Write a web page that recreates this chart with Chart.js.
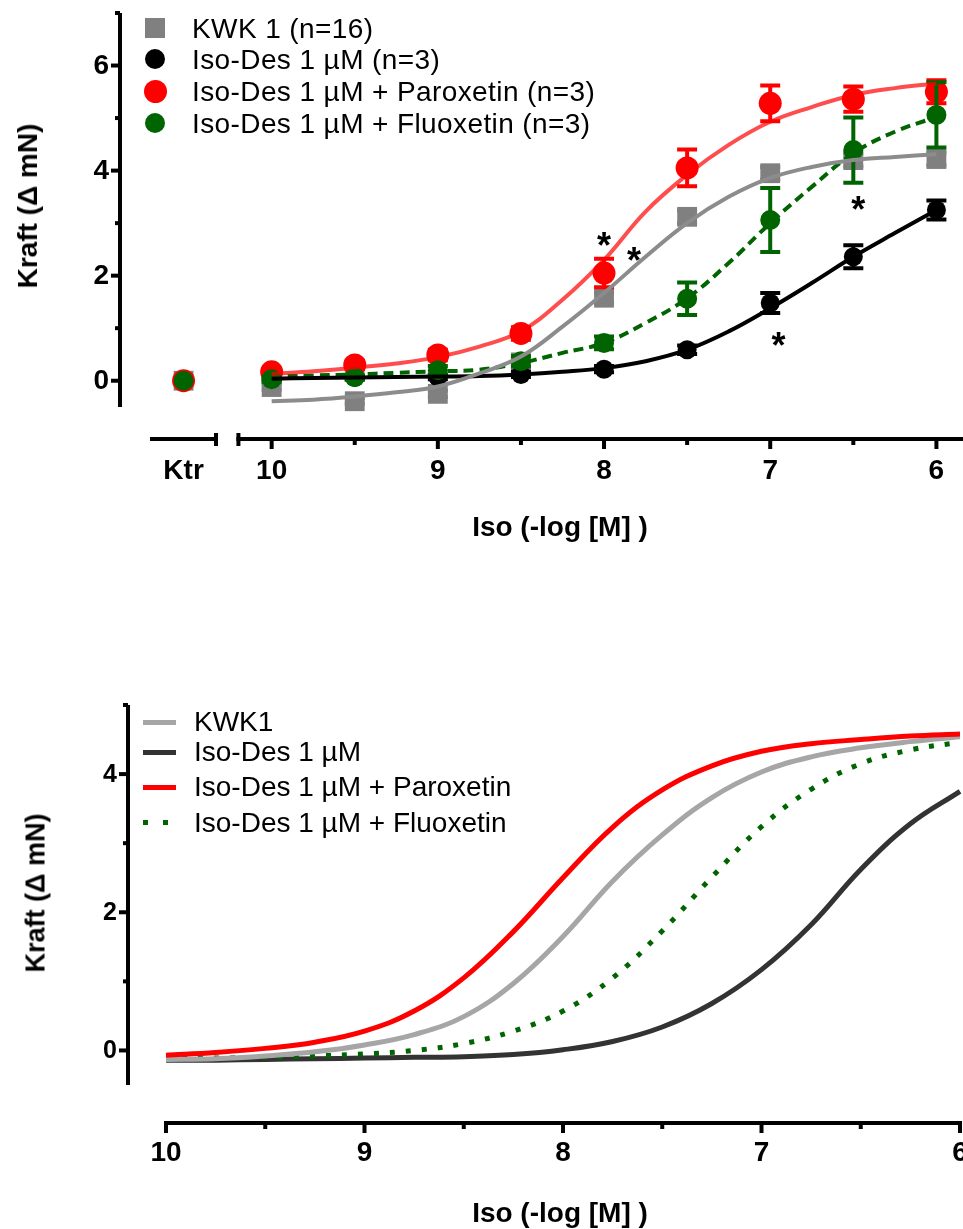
<!DOCTYPE html>
<html>
<head>
<meta charset="utf-8">
<script src="https://cdn.jsdelivr.net/npm/chart.js@4.4.1/dist/chart.umd.min.js"></script>
<style>
  body { margin: 0; background: #fff; width: 963px; height: 1229px; overflow: hidden; position: relative;
         font-family: "Liberation Sans", Arial, sans-serif; color: #000; }
  canvas { position: absolute; left: 0; }
  #topChart { top: 0; }
  #bottomChart { top: 600px; }
  .row { position: absolute; white-space: nowrap; font-size: 28px; line-height: 32px; }
  #topLegend .row { letter-spacing: 0.4px; }
  .mark { position: absolute; }
  .title { position: absolute; font-weight: bold; font-size: 28px; white-space: nowrap; transform: translate(-50%, -50%); }
  .ytitle { transform: translate(-50%, -50%) rotate(-90deg); }
</style>
</head>
<body>
<canvas id="topChart" width="963" height="600"></canvas>
<canvas id="bottomChart" width="963" height="629"></canvas>
<div id="topLegend"></div>
<div id="bottomLegend"></div>
<div class="title ytitle" style="left:28px; top:206px;">Kraft (Δ mN)</div>
<div class="title" style="left:560px; top:527px;">Iso (-log [M] )</div>
<div class="title ytitle" style="left:36px; top:893px; font-size:27px;">Kraft (Δ mN)</div>
<div class="title" style="left:560px; top:1213px;">Iso (-log [M] )</div>
<script>
// --- Messwerte (oben): Mittelwert +/- SEM je Iso-Konzentration
const doses = [10, 9.5, 9, 8.5, 8, 7.5, 7, 6.5, 6];
const kwkMean = [-0.12, -0.39, -0.25, 0.35, 1.58, 3.12, 3.95, 4.2, 4.22];
const kwkSem = [0.05, 0.05, 0.06, 0.08, 0.1, 0.12, 0.12, 0.12, 0.12];
const desMean = [0.05, 0.06, 0.07, 0.12, 0.22, 0.59, 1.48, 2.36, 3.25];
const desSem = [0.03, 0.03, 0.04, 0.05, 0.06, 0.08, 0.19, 0.22, 0.18];
const parMean = [0.17, 0.3, 0.49, 0.9, 2.05, 4.05, 5.28, 5.36, 5.5];
const parSem = [0.05, 0.08, 0.1, 0.12, 0.27, 0.35, 0.34, 0.24, 0.22];
const fluMean = [0.03, 0.07, 0.2, 0.37, 0.72, 1.56, 3.06, 4.39, 5.06];
const fluSem = [0.05, 0.05, 0.08, 0.1, 0.12, 0.31, 0.61, 0.62, 0.62];
const ktrValues = [0, 0, 0, 0]; // KWK, Des, Par, Flu

// --- Fitkurven (oben)
const fitX = [10, 9.75, 9.5, 9.25, 9, 8.75, 8.5, 8.25, 8, 7.75, 7.5, 7.25, 7, 6.75, 6.5, 6.25, 6];
const kwkFit = [-0.39, -0.36, -0.3, -0.22, -0.11, 0.14, 0.46, 1.03, 1.67, 2.36, 3.0, 3.5, 3.86, 4.07, 4.2, 4.26, 4.31];
const desFit = [0.04, 0.05, 0.06, 0.07, 0.08, 0.09, 0.12, 0.17, 0.24, 0.37, 0.59, 0.94, 1.38, 1.86, 2.36, 2.81, 3.25];
const parFit = [0.13, 0.18, 0.25, 0.33, 0.45, 0.65, 0.94, 1.54, 2.3, 3.22, 3.92, 4.49, 4.93, 5.21, 5.44, 5.57, 5.66];
const fluFit = [0.08, 0.1, 0.12, 0.15, 0.18, 0.21, 0.34, 0.53, 0.72, 1.1, 1.57, 2.24, 3.0, 3.69, 4.33, 4.74, 5.02];

// --- Kurven (unten)
const kwkCurve = [-0.13, -0.12, -0.08, -0.02, 0.08, 0.23, 0.49, 0.97, 1.65, 2.45, 3.12, 3.66, 4.03, 4.25, 4.38, 4.47, 4.54];
const desCurve = [-0.14, -0.14, -0.13, -0.12, -0.11, -0.1, -0.09, -0.06, 0.01, 0.13, 0.34, 0.68, 1.17, 1.82, 2.62, 3.28, 3.75];
const parCurve = [-0.07, -0.03, 0.03, 0.12, 0.28, 0.57, 1.05, 1.72, 2.5, 3.23, 3.77, 4.12, 4.33, 4.44, 4.5, 4.55, 4.58];
const fluCurve = [-0.12, -0.11, -0.1, -0.08, -0.05, 0.0, 0.1, 0.28, 0.57, 1.05, 1.73, 2.51, 3.24, 3.78, 4.15, 4.35, 4.46];

// --- Achsen / Beschriftung
const topYTicks = [0, 2, 4, 6];
const topYMinor = [1, 3, 5, 7];
const xTicks = [10, 9, 8, 7, 6];
const xMinor = [9.5, 8.5, 7.5, 6.5];
const bottomYTicks = [0, 2, 4];
const bottomYMinor = [1, 3, 5];
const ktrLabel = 'Ktr';
const topLabels = ['KWK 1 (n=16)', 'Iso-Des 1 µM (n=3)', 'Iso-Des 1 µM + Paroxetin (n=3)', 'Iso-Des 1 µM + Fluoxetin (n=3)'];
const bottomLabels = ['KWK1', 'Iso-Des 1 µM', 'Iso-Des 1 µM + Paroxetin', 'Iso-Des 1 µM + Fluoxetin'];
const sigMarks = [{x: 8.0, y: 2.72}, {x: 7.82, y: 2.43}, {x: 6.95, y: 0.82}, {x: 6.47, y: 3.4}];

const KTR_POS = 10.53;
const FONT = '"Liberation Sans", Arial, sans-serif';
const GRAY = '#808080', RED = '#ff0000', GREEN = '#006400';

const pts = (xs, ys) => xs.map((x, i) => ({x: x, y: ys[i]}));

// GraphPad-artige, abgesetzte Achsen (auch mit Achsenbruch)
const offsetAxes = {
  id: 'offsetAxes',
  afterDraw(chart, args, o) {
    const {ctx, chartArea: a, scales: {x, y}} = chart;
    const ax = a.left - o.offset, ay = a.bottom + o.offset;
    const line = (x1, y1, x2, y2) => { ctx.beginPath(); ctx.moveTo(x1, y1); ctx.lineTo(x2, y2); ctx.stroke(); };
    ctx.save();
    ctx.strokeStyle = '#000';
    ctx.fillStyle = '#000';
    ctx.lineWidth = 4;
    line(ax, y.getPixelForValue(y.max), ax, y.getPixelForValue(y.min));
    ctx.font = 'bold ' + o.yFont + 'px ' + FONT;
    ctx.textAlign = 'right';
    ctx.textBaseline = 'middle';
    o.yTicks.forEach(v => {
      const py = y.getPixelForValue(v);
      line(ax - 9, py, ax, py);
      ctx.fillText(String(v), ax - 11, py + 1);
    });
    o.yMinor.forEach(v => { const py = y.getPixelForValue(v); line(ax - 5, py, ax, py); });

    o.segments.forEach(s => {
      const x1 = x.getPixelForValue(s.from), x2 = x.getPixelForValue(s.to);
      line(x1 - 2, ay, x2 + 2, ay);
      if (s.capFrom) line(x1, ay - 6, x1, ay + 7);
      if (s.capTo) line(x2, ay - 6, x2, ay + 7);
    });
    ctx.font = 'bold ' + o.xFont + 'px ' + FONT;
    ctx.textAlign = 'center';
    o.xTicks.forEach(v => {
      const px = x.getPixelForValue(v);
      line(px, ay, px, ay + 10);
      ctx.fillText(String(v), px, ay + o.xLabelGap);
    });
    o.xMinor.forEach(v => { const px = x.getPixelForValue(v); line(px, ay, px, ay + 6); });
    if (o.ktr) ctx.fillText(o.ktr.label, x.getPixelForValue(o.ktr.pos), ay + o.xLabelGap);
    ctx.restore();
  }
};

// Fehlerbalken (SEM) unter den Symbolen
const errorBars = {
  id: 'errorBars',
  beforeDatasetDraw(chart, {index}) {
    const ds = chart.data.datasets[index];
    if (!ds.errors) return;
    const {ctx, scales: {x, y}} = chart;
    ctx.save();
    ctx.strokeStyle = ds.pointBackgroundColor;
    ctx.lineWidth = 4;
    ds.data.forEach((p, i) => {
      const e = ds.errors[i];
      if (!e) return;
      const px = x.getPixelForValue(p.x);
      const t = y.getPixelForValue(p.y + e), b = y.getPixelForValue(p.y - e);
      ctx.beginPath();
      ctx.moveTo(px, t); ctx.lineTo(px, b);
      ctx.moveTo(px - 10, t); ctx.lineTo(px + 10, t);
      ctx.moveTo(px - 10, b); ctx.lineTo(px + 10, b);
      ctx.stroke();
    });
    ctx.restore();
  }
};

const stars = {
  id: 'stars',
  afterDatasetsDraw(chart, args, o) {
    if (!o.marks) return;
    const {ctx, scales: {x, y}} = chart;
    ctx.save();
    ctx.font = 'bold 36px ' + FONT;
    ctx.textAlign = 'center';
    ctx.textBaseline = 'alphabetic';
    ctx.fillStyle = '#000';
    o.marks.forEach(m => ctx.fillText('*', x.getPixelForValue(m.x), y.getPixelForValue(m.y) + 20));
    ctx.restore();
  }
};

const pointSet = (label, means, sem, ktr, style, color, radius, order) => ({
  label: label,
  data: [{x: KTR_POS, y: ktr}].concat(pts(doses, means)),
  errors: [0].concat(sem),
  showLine: false,
  pointStyle: style,
  pointRadius: radius,
  pointBackgroundColor: color,
  pointBorderWidth: 0,
  clip: false,
  order: order
});

const curveSet = (label, xs, ys, color, width, dash, order) => ({
  label: label,
  data: pts(xs, ys),
  borderColor: color,
  borderWidth: width,
  borderDash: dash,
  pointRadius: 0,
  tension: 0.4,
  clip: false,
  order: order
});

const baseOptions = (padding, xr, yr, axes, marks) => ({
  responsive: false,
  animation: false,
  events: [],
  layout: {padding: padding, autoPadding: false},
  scales: {
    x: {type: 'linear', reverse: true, min: xr[0], max: xr[1], display: false},
    y: {type: 'linear', min: yr[0], max: yr[1], display: false}
  },
  plugins: {legend: {display: false}, tooltip: {enabled: false}, offsetAxes: axes, stars: {marks: marks}}
});

new Chart(document.getElementById('topChart'), {
  type: 'line',
  data: {
    datasets: [
      curveSet('par fit', fitX, parFit, 'rgba(255,0,0,0.7)', 4, [], 0),
      curveSet('kwk fit', fitX, kwkFit, '#8c8c8c', 4, [], 1),
      curveSet('des fit', fitX, desFit, '#000', 4, [], 2),
      curveSet('flu fit', fitX, fluFit, GREEN, 4, [10, 6], 3),
      pointSet(topLabels[3], fluMean, fluSem, ktrValues[3], 'circle', GREEN, 10, 4),
      pointSet(topLabels[2], parMean, parSem, ktrValues[2], 'circle', RED, 11.5, 5),
      pointSet(topLabels[1], desMean, desSem, ktrValues[1], 'circle', '#000', 9.5, 6),
      pointSet(topLabels[0], kwkMean, kwkSem, ktrValues[0], 'rect', GRAY, 14, 7)
    ]
  },
  options: baseOptions({left: 152, right: 0, top: 13, bottom: 193}, [5.84, 10.72], [-0.5, 7], {
    offset: 32, yFont: 28, xFont: 28, xLabelGap: 32,
    yTicks: topYTicks, yMinor: topYMinor, xTicks: xTicks, xMinor: xMinor,
    segments: [{from: 10.72, to: 10.335, capTo: true}, {from: 10.2, to: 5.84, capFrom: true}],
    ktr: {label: ktrLabel, pos: KTR_POS}
  }, sigMarks),
  plugins: [offsetAxes, errorBars, stars]
});

new Chart(document.getElementById('bottomChart'), {
  type: 'line',
  data: {
    datasets: [
      curveSet(bottomLabels[2], fitX, parCurve, RED, 5, [], 0),
      curveSet(bottomLabels[0], fitX, kwkCurve, '#a6a6a6', 5, [], 1),
      curveSet(bottomLabels[3], fitX, fluCurve, GREEN, 5, [5, 11], 2),
      curveSet(bottomLabels[1], fitX, desCurve, '#333333', 5, [], 3)
    ]
  },
  options: baseOptions({left: 166, right: 3, top: 105, bottom: 144}, [6, 10], [-0.5, 5], {
    offset: 38, yFont: 25, xFont: 28, xLabelGap: 30,
    yTicks: bottomYTicks, yMinor: bottomYMinor, xTicks: xTicks, xMinor: xMinor,
    segments: [{from: 10, to: 6}]
  }, null),
  plugins: [offsetAxes]
});

// Legenden als HTML
function addRow(parent, label, cy, textX, mark) {
  const row = document.createElement('div');
  row.className = 'row';
  row.style.left = textX + 'px';
  row.style.top = (cy - 16) + 'px';
  row.textContent = label;
  parent.appendChild(row);
  const m = document.createElement('div');
  m.className = 'mark';
  Object.assign(m.style, mark);
  parent.appendChild(m);
}

const topLeg = document.getElementById('topLegend');
const topMarks = [
  {left: '145px', top: '18px', width: '20px', height: '20px', background: GRAY},
  {left: '145px', top: '49px', width: '20px', height: '20px', background: '#000', borderRadius: '50%'},
  {left: '143.5px', top: '79.5px', width: '23px', height: '23px', background: RED, borderRadius: '50%'},
  {left: '145px', top: '113px', width: '20px', height: '20px', background: GREEN, borderRadius: '50%'}
];
[29, 60, 92, 124].forEach((cy, i) => addRow(topLeg, topLabels[i], cy, 192, topMarks[i]));

const botLeg = document.getElementById('bottomLegend');
const botMarks = [
  {left: '143px', top: '719.5px', width: '33px', height: '5px', background: '#a6a6a6'},
  {left: '143px', top: '749.5px', width: '33px', height: '5px', background: '#333333'},
  {left: '143px', top: '784.5px', width: '33px', height: '5px', background: RED},
  {left: '143px', top: '820px', width: '25px', height: '5px',
   background: 'linear-gradient(90deg, ' + GREEN + ' 0 5px, transparent 5px 20px, ' + GREEN + ' 20px 25px)'}
];
[722, 752, 787, 823].forEach((cy, i) => addRow(botLeg, bottomLabels[i], cy, 194, botMarks[i]));
</script>
</body>
</html>
